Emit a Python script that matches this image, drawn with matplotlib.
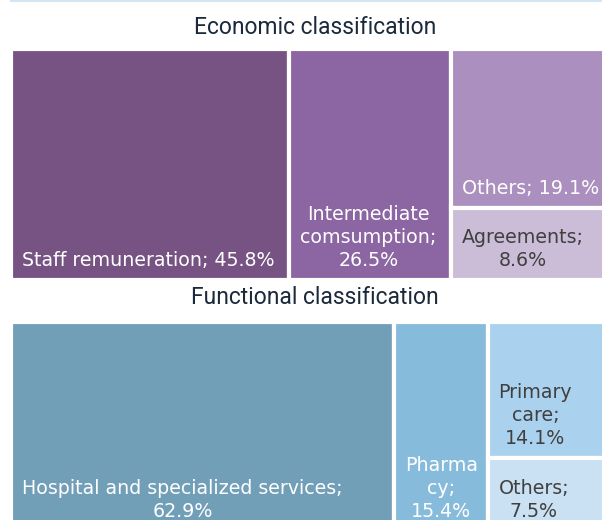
import matplotlib
matplotlib.use("Agg")
import matplotlib.pyplot as plt
from matplotlib.patches import Rectangle
from matplotlib.transforms import offset_copy
from matplotlib.lines import Line2D

# ---- data ----
econ_labels = ["Staff remuneration; 45.8%", "Intermediate\ncomsumption;\n26.5%",
               "Others; 19.1%", "Agreements;\n8.6%"]
econ_values = [45.8, 26.5, 19.1, 8.6]
econ_colors = ["#775384", "#8c66a2", "#ab8fbe", "#cbbcd8"]
econ_text = ["white", "white", "white", "#404040"]

func_labels = ["Hospital and specialized services;\n62.9%", "Pharma\ncy;\n15.4%",
               "Primary\ncare;\n14.1%", "Others;\n7.5%"]
func_values = [62.9, 15.4, 14.1, 7.5]
func_colors = ["#729fb8", "#87bbdb", "#aad2ee", "#c9e1f3"]
func_text = ["white", "white", "#404040", "#404040"]

titles = ["Economic classification", "Functional classification"]

W, H = 602, 520
fig = plt.figure(figsize=(W / 100, H / 100), dpi=100)


def px_axes(x0, y0, x1, y1):
    # pixel coords with origin top-left
    return fig.add_axes([x0 / W, 1 - y1 / H, (x1 - x0) / W, (y1 - y0) / H])


def treemap(ax, values, colors, labels, tcolors):
    total = sum(values)
    ax.set_xlim(0, total)
    ax.set_ylim(total, 0)
    ax.axis("off")
    # two columns, then remaining stacked in the last column
    rects = []
    x = 0
    for v in values[:2]:
        rects.append((x, 0, v, total))
        x += v
    rest = values[2:]
    colw = sum(rest)
    y = 0
    for v in rest:
        h = total * v / colw
        rects.append((x, y, colw, h))
        y += h
    for (rx, ry, rw, rh), c, lab, tc in zip(rects, colors, labels, tcolors):
        ax.add_patch(Rectangle((rx, ry), rw, rh, facecolor=c, edgecolor="white",
                               linewidth=3.0, clip_on=False))
        tr = offset_copy(ax.transData, fig=fig, x=11, y=10, units="dots")
        ax.text(rx, ry + rh, lab, transform=tr, ha="left", va="bottom",
                multialignment="center", fontsize=13.7, color=tc,
                family="DejaVu Sans", linespacing=1.28, clip_on=False)


ax1 = px_axes(11, 49, 619, 280)
treemap(ax1, econ_values, econ_colors, econ_labels, econ_text)
ax2 = px_axes(11, 322, 619, 531)
treemap(ax2, func_values, func_colors, func_labels, func_text)

fig.text(315 / W, 1 - 28 / H, titles[0], ha="center", va="center",
         fontsize=16.5, family="Roboto", color="#1b2a3a")
fig.text(315 / W, 1 - 298 / H, titles[1], ha="center", va="center",
         fontsize=16.5, family="Roboto", color="#1b2a3a")

fig.add_artist(Line2D([11 / W, 1], [1 - 0.8 / H, 1 - 0.8 / H], color="#d5e5f3",
                      linewidth=1.5, transform=fig.transFigure))

fig.savefig("out.png", dpi=100)
